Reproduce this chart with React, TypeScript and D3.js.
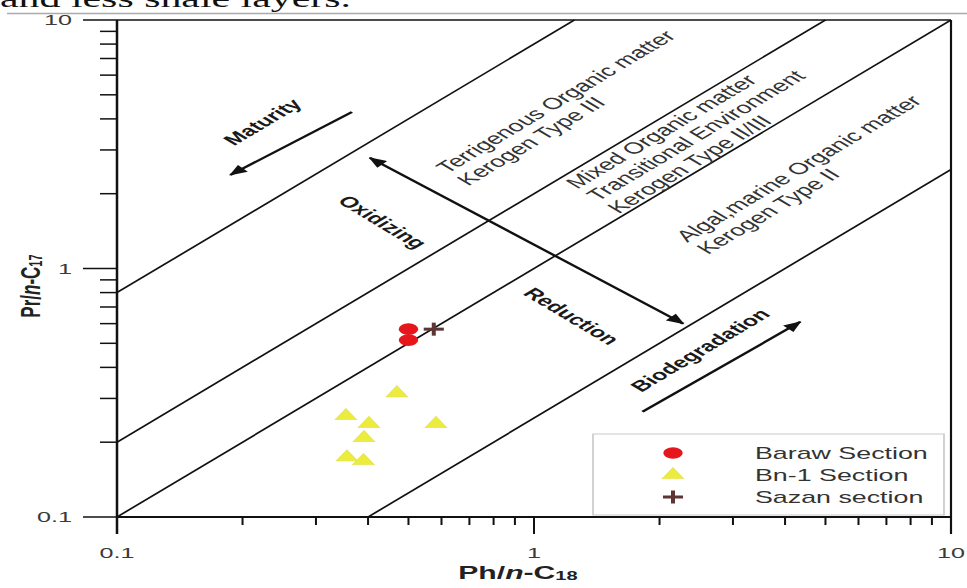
import React, { useEffect, useRef } from 'react';
import * as d3 from 'd3';

// The figure is drawn in a narrow, square-decade frame and then widened horizontally.
const WIDTH = 967;
const HEIGHT = 588;
const STRETCH = 1.675;

const phDomain: [number, number] = [0.1, 10];
const prDomain: [number, number] = [0.1, 10];
const xTickValues = [0.1, 1, 10];
const xTickLabels = ['0.1', '1', '10'];
const yTickValues = [0.1, 1, 10];
const yTickLabels = ['0.1', '1', '10'];

// Boundary lines of constant Pr/Ph (Pr/n-C17 = ratio * Ph/n-C18)
const boundaryRatios = [8, 2, 1, 0.25];

const barawPh = [0.5, 0.5];
const barawPr = [0.57, 0.515];
const bnPh = [0.469, 0.354, 0.402, 0.582, 0.391, 0.356, 0.39];
const bnPr = [0.315, 0.255, 0.237, 0.237, 0.208, 0.174, 0.168];
const sazanPh = [0.575];
const sazanPr = [0.57];

const legendLabels = ['Baraw Section', 'Bn-1 Section', 'Sazan section'];

const zoneLabels = [
  { lines: ['Terrigenous Organic matter', 'Kerogen Type III'], ph: 0.62, pr: 2.4 },
  { lines: ['Mixed Organic matter', 'Transitional Environment', 'Kerogen Type II/III'], ph: 1.27, pr: 2.08 },
  { lines: ['Algal,marine Organic matter', 'Kerogen Type II'], ph: 2.33, pr: 1.27 },
];

const trendLabels = [
  { text: 'Maturity', ph: 0.223, pr: 3.89, angle: -45 },
  { text: 'Oxidizing', ph: 0.434, pr: 1.54, angle: 45 },
  { text: 'Reduction', ph: 1.233, pr: 0.644, angle: 45 },
  { text: 'Biodegradation', ph: 2.5, pr: 0.47, angle: -45 },
];

const trendArrows = [
  { from: [0.366, 4.26], to: [0.187, 2.38], both: false },
  { from: [0.404, 2.79], to: [2.28, 0.6], both: true },
  { from: [1.82, 0.265], to: [4.35, 0.61], both: false },
];

const SANS = '"Liberation Sans", Arial, Helvetica, sans-serif';

export default function App() {
  const ref = useRef<SVGSVGElement>(null);

  useEffect(() => {
    const svg = d3.select(ref.current);
    svg.selectAll('*').remove();

    const defs = svg.append('defs');
    defs
      .append('marker')
      .attr('id', 'arrowHead')
      .attr('viewBox', '0 0 12 10')
      .attr('refX', 11)
      .attr('refY', 5)
      .attr('markerWidth', 12)
      .attr('markerHeight', 9)
      .attr('markerUnits', 'userSpaceOnUse')
      .attr('orient', 'auto-start-reverse')
      .append('path')
      .attr('d', 'M0,0 L12,5 L0,10 Z')
      .attr('fill', '#111');

    const g = svg.append('g').attr('transform', `scale(${STRETCH},1)`);

    // running text of the page above the figure
    g.append('text')
      .attr('x', 0)
      .attr('y', 7)
      .attr('font-family', '"Liberation Serif", "Times New Roman", serif')
      .attr('font-size', 25)
      .attr('fill', '#111')
      .text('and less shale layers.');
    g.append('line')
      .attr('x1', 7 / STRETCH)
      .attr('x2', WIDTH / STRETCH)
      .attr('y1', 13.5)
      .attr('y2', 13.5)
      .attr('stroke', '#aaa')
      .attr('stroke-width', 1.5);

    const x = d3.scaleLog().domain(phDomain).range([117 / STRETCH, 951 / STRETCH]);
    const y = d3.scaleLog().domain(prDomain).range([517, 20]);
    const [x0, x1] = x.range();
    const [y0, y1] = y.range();

    // Pr/Ph boundary lines, clipped to the plot domain
    const line = d3.line<[number, number]>().x((d) => x(d[0])).y((d) => y(d[1]));
    boundaryRatios.forEach((r) => {
      const a = Math.max(phDomain[0], prDomain[0] / r);
      const b = Math.min(phDomain[1], prDomain[1] / r);
      g.append('path')
        .attr('d', line([[a, a * r], [b, b * r]]))
        .attr('fill', 'none')
        .attr('stroke', '#111')
        .attr('stroke-width', 1.4);
    });

    // frame
    g.append('line').attr('x1', x0).attr('x2', x1).attr('y1', y1).attr('y2', y1)
      .attr('stroke', '#111').attr('stroke-width', 1.6);
    g.append('line').attr('x1', x1).attr('x2', x1).attr('y1', y1).attr('y2', y0 + 17)
      .attr('stroke', '#111').attr('stroke-width', 1.3);
    g.append('line').attr('x1', x0).attr('x2', x1).attr('y1', y0).attr('y2', y0)
      .attr('stroke', '#111').attr('stroke-width', 2);
    g.append('line').attr('x1', x0).attr('x2', x0).attr('y1', y1).attr('y2', y0 + 17)
      .attr('stroke', '#111').attr('stroke-width', 1.5);

    const isMajor = (v: number) => Math.abs(Math.log10(v) - Math.round(Math.log10(v))) < 1e-6;

    // x ticks (outward, below)
    x.ticks().forEach((v) => {
      const len = isMajor(v) ? 17 : 8;
      g.append('line').attr('x1', x(v)).attr('x2', x(v)).attr('y1', y0).attr('y2', y0 + len)
        .attr('stroke', '#111').attr('stroke-width', 1.2);
    });
    xTickValues.forEach((v, i) => {
      g.append('text')
        .attr('x', x(v))
        .attr('y', 558)
        .attr('text-anchor', 'middle')
        .attr('font-family', SANS)
        .attr('font-size', 15)
        .attr('fill', '#3a3a3a')
        .text(xTickLabels[i]);
    });

    // y ticks (outward, left)
    y.ticks().forEach((v) => {
      const len = isMajor(v) ? 34 / STRETCH : 17 / STRETCH;
      g.append('line').attr('x1', x0 - len).attr('x2', x0).attr('y1', y(v)).attr('y2', y(v))
        .attr('stroke', '#111').attr('stroke-width', 1.5);
    });
    yTickValues.forEach((v, i) => {
      g.append('text')
        .attr('x', 72 / STRETCH)
        .attr('y', y(v))
        .attr('dy', '0.36em')
        .attr('text-anchor', 'end')
        .attr('font-family', SANS)
        .attr('font-size', 15)
        .attr('fill', '#3a3a3a')
        .text(yTickLabels[i]);
    });

    // axis titles
    const xt = g.append('text')
      .attr('x', 518 / STRETCH)
      .attr('y', 579)
      .attr('text-anchor', 'middle')
      .attr('font-family', SANS)
      .attr('font-weight', 'bold')
      .attr('font-size', 18)
      .attr('fill', '#222');
    xt.append('tspan').text('Ph/');
    xt.append('tspan').attr('font-style', 'italic').text('n');
    xt.append('tspan').text('-C');
    xt.append('tspan').attr('font-size', 12).attr('dy', 1).text('18');

    const yt = g.append('text')
      .attr('transform', `translate(${30 / STRETCH},${y(0.85)}) rotate(-90)`)
      .attr('text-anchor', 'middle')
      .attr('dy', '0.36em')
      .attr('font-family', SANS)
      .attr('font-weight', 'bold')
      .attr('font-size', 17)
      .attr('fill', '#222');
    yt.append('tspan').text('Pr/');
    yt.append('tspan').attr('font-style', 'italic').text('n');
    yt.append('tspan').text('-C');
    yt.append('tspan').attr('font-size', 11).attr('dy', 1).text('17');

    // zone labels along the boundary lines
    zoneLabels.forEach((z) => {
      const t = g.append('text')
        .attr('transform', `translate(${x(z.ph)},${y(z.pr)}) rotate(-45)`)
        .attr('font-family', SANS)
        .attr('font-size', 16)
        .attr('fill', '#333');
      z.lines.forEach((l, i) => {
        t.append('tspan').attr('x', 0).attr('dy', i === 0 ? 0 : 17.5).text(l);
      });
    });

    // trend labels
    trendLabels.forEach((tl) => {
      g.append('text')
        .attr('transform', `translate(${x(tl.ph)},${y(tl.pr)}) rotate(${tl.angle})`)
        .attr('text-anchor', 'middle')
        .attr('dy', '0.36em')
        .attr('font-family', SANS)
        .attr('font-weight', 'bold')
        .attr('font-size', 15)
        .attr('fill', '#1a1a1a')
        .text(tl.text);
    });

    // trend arrows
    trendArrows.forEach((a) => {
      const p = g.append('line')
        .attr('x1', x(a.from[0]))
        .attr('y1', y(a.from[1]))
        .attr('x2', x(a.to[0]))
        .attr('y2', y(a.to[1]))
        .attr('stroke', '#111')
        .attr('stroke-width', 2)
        .attr('marker-end', 'url(#arrowHead)');
      if (a.both) p.attr('marker-start', 'url(#arrowHead)');
    });

    // samples
    const triangle = d3.symbol().type(d3.symbolTriangle).size(72);
    bnPh.forEach((ph, i) => {
      g.append('path')
        .attr('d', triangle())
        .attr('transform', `translate(${x(ph)},${y(bnPr[i])})`)
        .attr('fill', '#ecec3c')
        .attr('stroke', '#e2e25a')
        .attr('stroke-width', 0.6);
    });
    barawPh.forEach((ph, i) => {
      g.append('circle')
        .attr('cx', x(ph))
        .attr('cy', y(barawPr[i]))
        .attr('r', 5.8)
        .attr('fill', '#e5161c');
    });
    const drawCross = (cx: number, cy: number) => {
      g.append('line').attr('x1', cx - 6).attr('x2', cx + 6).attr('y1', cy).attr('y2', cy)
        .attr('stroke', '#5e3434').attr('stroke-width', 3);
      g.append('line').attr('x1', cx).attr('x2', cx).attr('y1', cy - 6.5).attr('y2', cy + 6.5)
        .attr('stroke', '#5e3434').attr('stroke-width', 2.4);
    };
    sazanPh.forEach((ph, i) => drawCross(x(ph), y(sazanPr[i])));

    // legend
    const lg = g.append('g');
    lg.append('rect')
      .attr('x', 593 / STRETCH)
      .attr('y', 434)
      .attr('width', (944 - 593) / STRETCH)
      .attr('height', 515 - 434)
      .attr('fill', '#fff')
      .attr('stroke', '#c4c4c4')
      .attr('stroke-width', 0.9);
    const symX = 673 / STRETCH;
    const rowY = [453, 475, 497];
    lg.append('circle').attr('cx', symX).attr('cy', rowY[0]).attr('r', 5.8).attr('fill', '#e5161c');
    lg.append('path').attr('d', triangle()).attr('transform', `translate(${symX},${rowY[1]})`)
      .attr('fill', '#ecec3c').attr('stroke', '#e2e25a').attr('stroke-width', 0.6);
    lg.append('line').attr('x1', symX - 6).attr('x2', symX + 6).attr('y1', rowY[2]).attr('y2', rowY[2])
      .attr('stroke', '#5e3434').attr('stroke-width', 3);
    lg.append('line').attr('x1', symX).attr('x2', symX).attr('y1', rowY[2] - 6.5).attr('y2', rowY[2] + 6.5)
      .attr('stroke', '#5e3434').attr('stroke-width', 2.4);
    legendLabels.forEach((l, i) => {
      lg.append('text')
        .attr('x', 755 / STRETCH)
        .attr('y', rowY[i])
        .attr('dy', '0.36em')
        .attr('font-family', SANS)
        .attr('font-size', 16)
        .attr('fill', '#333')
        .text(l);
    });
  }, []);

  return (
    <svg
      ref={ref}
      width={WIDTH}
      height={HEIGHT}
      style={{ position: 'absolute', left: 0, top: 0, background: '#fff' }}
    />
  );
}
